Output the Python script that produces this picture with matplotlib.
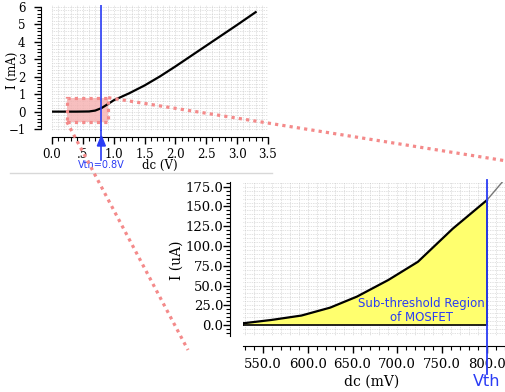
import matplotlib
matplotlib.use("Agg")
import matplotlib.pyplot as plt
from matplotlib.ticker import MultipleLocator
from matplotlib.lines import Line2D
from matplotlib.patches import Rectangle
import numpy as np

# ---------------- data ----------------
top_v = [0.0, 0.2, 0.4, 0.6, 0.7, 0.8, 0.9, 1.0, 1.25, 1.5, 1.75, 2.0, 2.5, 3.0, 3.3]
top_i = [0.0, 0.0, 0.0, 0.01, 0.06, 0.2, 0.42, 0.65, 1.05, 1.5, 2.02, 2.59, 3.78, 4.97, 5.7]
top_xticks = [0.0, 0.5, 1.0, 1.5, 2.0, 2.5, 3.0, 3.5]
top_xticklabels = ["0.0", ".5", "1.0", "1.5", "2.0", "2.5", "3.0", "3.5"]
top_yticks = [-1, 0, 1, 2, 3, 4, 5, 6]
vth_v = 0.8
zoom_box = (0.24, 0.91, -0.58, 0.8)  # x0, x1, y0, y1

bot_mv = [528, 560, 593, 625, 655, 690, 723, 762, 800]
bot_ua = [2.2, 6.5, 12.0, 22.0, 36.0, 57.0, 80.0, 122.0, 158.0]
ext_mv = [800, 818]
ext_ua = [158.0, 182.0]
bot_xticks = [550, 600, 650, 700, 750, 800]
bot_yticks = [0, 25, 50, 75, 100, 125, 150, 175]
vth_mv = 800

W, H = 506, 392
fig = plt.figure(figsize=(W / 100, H / 100), dpi=100)

def px_axes(l, t, r, b):
    return fig.add_axes([l / W, 1 - b / H, (r - l) / W, (b - t) / H])

blue = "#2a3cf5"
salmon = "#f48a8a"
grid_c = "#c4c4c4"
serif = "DejaVu Serif"

# ---------------- top panel ----------------
ax1 = px_axes(52, 5, 268, 131)
ax1.set_xlim(0, 3.5)
ax1.set_ylim(-1.11, 6.11)
ax1.plot(top_v, top_i, color="black", lw=1.6, zorder=4)
ax1.add_patch(Rectangle((zoom_box[0], zoom_box[2]), zoom_box[1] - zoom_box[0],
                        zoom_box[3] - zoom_box[2], facecolor="#f5b0b0", alpha=0.8,
                        edgecolor="none", zorder=2))
ax1.add_patch(Rectangle((zoom_box[0], zoom_box[2]), zoom_box[1] - zoom_box[0],
                        zoom_box[3] - zoom_box[2], facecolor="none", edgecolor=salmon,
                        lw=2.3, linestyle=(0, (1, 1.3)), zorder=5))
ax1.axvline(vth_v, color=blue, lw=1.2, zorder=6)

for sp in ["top", "right"]:
    ax1.spines[sp].set_visible(False)
ax1.spines["left"].set_position(("outward", 8))
ax1.spines["bottom"].set_position(("outward", 4))
ax1.spines["left"].set_bounds(-1, 6)
ax1.spines["bottom"].set_bounds(0, 3.5)
ax1.set_xticks(top_xticks)
ax1.set_xticklabels(top_xticklabels)
ax1.set_yticks(top_yticks)
ax1.xaxis.set_minor_locator(MultipleLocator(0.1))
ax1.yaxis.set_minor_locator(MultipleLocator(0.2))
ax1.tick_params(which="major", length=5, width=1, pad=3, labelsize=8.5,
                labelfontfamily=serif)
ax1.tick_params(axis="y", which="major", pad=6)
ax1.tick_params(which="minor", length=3, width=0.8)
ax1.grid(True, which="both", color=grid_c, lw=0.5, linestyle=(0, (1, 1.5)))
ax1.set_axisbelow(True)
ax1.set_xlabel("dc (V)", family=serif, fontsize=8.5)
ax1.xaxis.set_label_coords((160 - 52) / 216, (131 - 159) / 126)
ax1.set_ylabel("I (mA)", family=serif, fontsize=8.5)
ax1.yaxis.set_label_coords((19 - 52) / 216, (131 - 70) / 126)

# ---------------- bottom panel ----------------
ax2 = px_axes(243, 182, 520, 336)
ax2.set_xlim(527.7, 837)
ax2.set_ylim(-13.9, 181)
ax2.fill_between(bot_mv, bot_ua, 0, facecolor="#ffff6e", edgecolor="none", zorder=2)
ax2.plot([bot_mv[0], bot_mv[-1], bot_mv[-1]], [0, 0, bot_ua[-1]],
         color="black", lw=1.2, zorder=3)
ax2.plot([bot_mv[0], bot_mv[0]], [0, bot_ua[0]], color="black", lw=1.2, zorder=3)
ax2.plot(bot_mv, bot_ua, color="black", lw=1.6, zorder=4)
ax2.plot(ext_mv, ext_ua, color="#777777", lw=1.0, zorder=4)
ax2.text(727, 19, "Sub-threshold Region\nof MOSFET", color=blue, fontsize=8.5,
         ha="center", va="center", linespacing=1.1, zorder=5)

for sp in ["top", "right"]:
    ax2.spines[sp].set_visible(False)
ax2.spines["left"].set_position(("outward", 9))
ax2.spines["bottom"].set_position(("outward", 7))
ax2.spines["left"].set_bounds(-13.9, 181)
ax2.set_xticks(bot_xticks)
ax2.set_xticklabels([f"{v:.1f}" for v in bot_xticks])
ax2.set_yticks(bot_yticks)
ax2.set_yticklabels([f"{v:.1f}" for v in bot_yticks])
ax2.xaxis.set_minor_locator(MultipleLocator(10))
ax2.yaxis.set_minor_locator(MultipleLocator(5))
ax2.tick_params(which="major", length=5, width=1, pad=4, labelsize=9.5,
                labelfontfamily=serif)
ax2.tick_params(axis="y", which="major", pad=0)
ax2.tick_params(which="minor", length=3, width=0.8)
ax2.grid(True, which="both", color=grid_c, lw=0.5, linestyle=(0, (1, 1.5)))
ax2.set_axisbelow(True)
ax2.set_xlabel("dc (mV)", family=serif, fontsize=10)
ax2.xaxis.set_label_coords((372 - 243) / (520 - 243), (336 - 375) / 154)
ax2.set_ylabel("I (uA)", family=serif, fontsize=10)
ax2.yaxis.set_label_coords((184 - 243) / (520 - 243), (336 - 260) / 154)

# ---------------- overlays (figure pixel space) ----------------
fig.canvas.draw()
inv = fig.transFigure.inverted()

def to_fig(ax, x, y):
    d = ax.transData.transform((x, y))
    return inv.transform(d)

def pxf(x, y):
    return (x / W, 1 - y / H)

# Vth marker on the bottom panel
vt_x = to_fig(ax2, vth_mv, 0)[0]
fig.add_artist(Line2D([vt_x, vt_x], [pxf(0, 180)[1], pxf(0, 374)[1]],
                      color=blue, lw=1.3, zorder=10))
fig.text(vt_x, pxf(0, 381)[1], "Vth", color=blue, fontsize=11.5, ha="center",
         va="center", zorder=11)

# Vth arrow on the top panel
vx = to_fig(ax1, vth_v, 0)[0]
fig.add_artist(Line2D([vx, vx], [pxf(0, 131)[1], pxf(0, 160)[1]], color=blue, lw=1.2, zorder=10))
fig.add_artist(plt.Polygon([[vx, pxf(0, 136)[1]], [vx - 4 / W, pxf(0, 146)[1]],
                            [vx + 4 / W, pxf(0, 146)[1]]], closed=True,
                           color=blue, zorder=11))
fig.text(vx, pxf(0, 165)[1], "Vth=0.8V", color=blue, fontsize=7, ha="center",
         va="center", zorder=11)

# thin separator
fig.add_artist(Line2D([pxf(10, 0)[0], pxf(272, 0)[0]], [pxf(0, 173)[1]] * 2,
                      color="#d8d8d8", lw=1.0, zorder=1))

# zoom connector lines
c1 = to_fig(ax1, zoom_box[1], zoom_box[3])
c2 = to_fig(ax1, zoom_box[0], zoom_box[2])
e1 = pxf(510, 161.5)
e2 = pxf(188, 350)
for s, e in [(c1, e1), (c2, e2)]:
    fig.add_artist(Line2D([s[0], e[0]], [s[1], e[1]], color=salmon, lw=2.3,
                          linestyle=(0, (1, 1.3)), zorder=12))

fig.savefig("out.png", dpi=100)
